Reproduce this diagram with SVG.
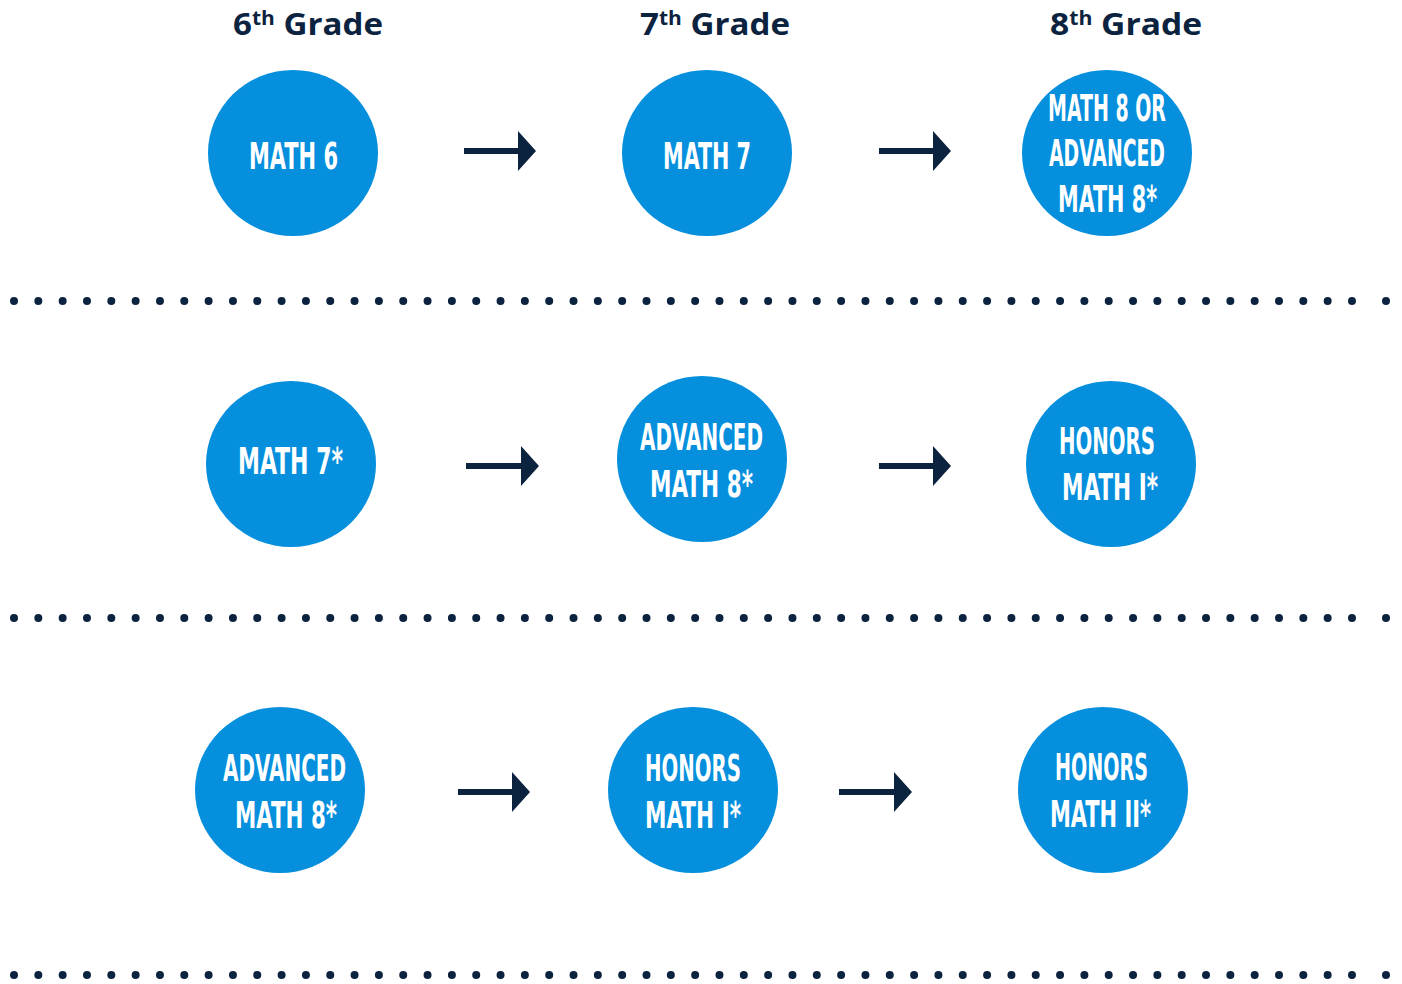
<svg xmlns="http://www.w3.org/2000/svg" width="1402" height="984" viewBox="0 0 1402 984">
<style>
.hdr{font-family:"Open Sans","Liberation Sans",sans-serif;font-weight:700;font-size:30px;fill:#0c2340}
.sup{font-size:19px}
.node ellipse{fill:#068fdd}
.lbl{font-family:"Liberation Sans Narrow","DejaVu Sans Condensed","Liberation Sans",sans-serif;font-weight:700;font-size:37px;fill:#ffffff}
.arrow{fill:#0c2340}
.dots{stroke:#0c2340;stroke-width:8;stroke-linecap:round;stroke-dasharray:0 24.327;fill:none}
.dot{fill:#0c2340}
</style>
<rect width="1402" height="984" fill="#ffffff"/>
<g id="headers">
<text class="hdr" x="233" y="35" textLength="150" lengthAdjust="spacingAndGlyphs">6<tspan class="sup" dy="-10">th</tspan><tspan dy="10"> Grade</tspan></text>
<text class="hdr" x="640" y="35" textLength="150" lengthAdjust="spacingAndGlyphs">7<tspan class="sup" dy="-10">th</tspan><tspan dy="10"> Grade</tspan></text>
<text class="hdr" x="1050" y="35" textLength="152" lengthAdjust="spacingAndGlyphs">8<tspan class="sup" dy="-10">th</tspan><tspan dy="10"> Grade</tspan></text>
</g>
<g id="separators">
<line class="dots" x1="14" y1="301" x2="1353" y2="301"/><circle class="dot" cx="1386" cy="301" r="4"/>
<line class="dots" x1="14" y1="618" x2="1353" y2="618"/><circle class="dot" cx="1386" cy="618" r="4"/>
<line class="dots" x1="14" y1="975" x2="1353" y2="975"/><circle class="dot" cx="1386" cy="975" r="4"/>
</g>
<g id="connectors">
<path class="arrow" d="M464 148h54v-17l18 20l-18 20v-17h-54z"/>
<path class="arrow" d="M879 148h54v-17l18 20l-18 20v-17h-54z"/>
<path class="arrow" d="M466 463h55v-17l18 20l-18 20v-17h-55z"/>
<path class="arrow" d="M879 463h54v-17l18 20l-18 20v-17h-54z"/>
<path class="arrow" d="M458 789h54v-17l18 20l-18 20v-17h-54z"/>
<path class="arrow" d="M839 789h55v-17l18 20l-18 20v-17h-55z"/>
</g>
<g id="node-math6" class="node"><ellipse cx="293" cy="153" rx="85" ry="83"/>
<text class="lbl" x="249" y="169" textLength="89" lengthAdjust="spacingAndGlyphs">MATH 6</text></g>
<g id="node-math7" class="node"><ellipse cx="707" cy="153" rx="85" ry="83"/>
<text class="lbl" x="663" y="169" textLength="88" lengthAdjust="spacingAndGlyphs">MATH 7</text></g>
<g id="node-math8-or-adv" class="node"><ellipse cx="1107" cy="153" rx="85" ry="83"/>
<text class="lbl" x="1048" y="121" textLength="118" lengthAdjust="spacingAndGlyphs">MATH 8 OR</text>
<text class="lbl" x="1049" y="166" textLength="116" lengthAdjust="spacingAndGlyphs">ADVANCED</text>
<text class="lbl" x="1058" y="212" textLength="99" lengthAdjust="spacingAndGlyphs">MATH 8*</text></g>
<g id="node-math7star" class="node"><ellipse cx="291" cy="464" rx="85" ry="83"/>
<text class="lbl" x="238" y="474" textLength="105" lengthAdjust="spacingAndGlyphs">MATH 7*</text></g>
<g id="node-adv-math8-r2" class="node"><ellipse cx="702" cy="459" rx="85" ry="83"/>
<text class="lbl" x="640" y="450" textLength="123" lengthAdjust="spacingAndGlyphs">ADVANCED</text>
<text class="lbl" x="650" y="497" textLength="103" lengthAdjust="spacingAndGlyphs">MATH 8*</text></g>
<g id="node-honors-math1-r2" class="node"><ellipse cx="1111" cy="464" rx="85" ry="83"/>
<text class="lbl" x="1059" y="454" textLength="96" lengthAdjust="spacingAndGlyphs">HONORS</text>
<text class="lbl" x="1062" y="500" textLength="96" lengthAdjust="spacingAndGlyphs">MATH I*</text></g>
<g id="node-adv-math8-r3" class="node"><ellipse cx="280" cy="790" rx="85" ry="83"/>
<text class="lbl" x="223" y="781" textLength="123" lengthAdjust="spacingAndGlyphs">ADVANCED</text>
<text class="lbl" x="235" y="828" textLength="102" lengthAdjust="spacingAndGlyphs">MATH 8*</text></g>
<g id="node-honors-math1-r3" class="node"><ellipse cx="693" cy="790" rx="85" ry="83"/>
<text class="lbl" x="645" y="781" textLength="96" lengthAdjust="spacingAndGlyphs">HONORS</text>
<text class="lbl" x="645" y="828" textLength="96" lengthAdjust="spacingAndGlyphs">MATH I*</text></g>
<g id="node-honors-math2" class="node"><ellipse cx="1103" cy="790" rx="85" ry="83"/>
<text class="lbl" x="1055" y="780" textLength="93" lengthAdjust="spacingAndGlyphs">HONORS</text>
<text class="lbl" x="1050" y="827" textLength="101" lengthAdjust="spacingAndGlyphs">MATH II*</text></g>
</svg>
